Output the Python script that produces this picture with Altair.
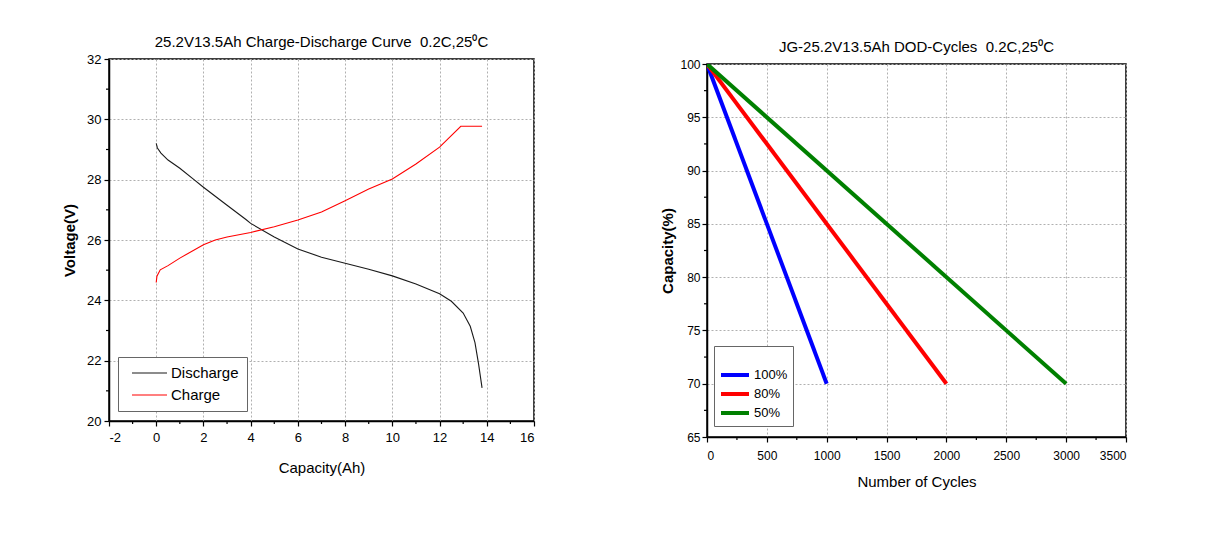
import altair as alt
import pandas as pd

FONT = "Liberation Sans"

# ---------------- Left chart data: charge / discharge curve ----------------
dis_cap = [0, 0.05, 0.2, 0.5, 1, 1.6, 2, 3, 3.8, 4, 5, 6, 7, 8, 9, 10, 11, 12, 12.5, 13, 13.3, 13.5, 13.65, 13.8]
dis_v = [29.2, 29.05, 28.88, 28.65, 28.38, 28.0, 27.75, 27.15, 26.68, 26.55, 26.1, 25.7, 25.43, 25.23, 25.03,
         24.81, 24.54, 24.22, 23.97, 23.58, 23.14, 22.6, 21.9, 21.1]
chg_cap = [0, 0.03, 0.17, 0.5, 1, 2, 2.5, 3, 4, 5, 6, 7, 8, 9, 10, 11, 12, 12.9, 13.8]
chg_v = [24.59, 24.8, 25.01, 25.15, 25.4, 25.84, 26.0, 26.1, 26.25, 26.44, 26.66, 26.93, 27.3, 27.69, 28.02,
         28.52, 29.08, 29.77, 29.77]
left_series = ["Discharge", "Charge"]
left_colors = ["#1a1a1a", "#ff0000"]
left_x_ticks = list(range(-2, 17, 2))
left_y_ticks = list(range(20, 33, 2))
left_x_minor = list(range(-1, 16, 2))
left_y_minor = list(range(21, 32, 2))

# ---------------- Right chart data: DOD vs cycles ----------------
dod_labels = ["100%", "80%", "50%"]
dod_colors = ["#0000ff", "#ff0000", "#008000"]
dod_end_cycles = [1000, 2000, 3000]
cap_start = 100
cap_end = 70
right_x_ticks = list(range(0, 3501, 500))
right_y_ticks = list(range(65, 101, 5))
right_x_minor = [250, 750, 1250, 1750, 2250, 2750, 3250]
right_y_minor = [67.5, 72.5, 77.5, 82.5, 87.5, 92.5, 97.5]

# ---------------- tables ----------------
rows = []
for i, (c, v) in enumerate(zip(dis_cap, dis_v)):
    rows.append({"series": "Discharge", "cap": c, "v": v, "idx": i})
for i, (c, v) in enumerate(zip(chg_cap, chg_v)):
    rows.append({"series": "Charge", "cap": c, "v": v, "idx": i})
df_left = pd.DataFrame(rows)

rrows = []
for lab, end in zip(dod_labels, dod_end_cycles):
    rrows.append({"dod": lab, "cyc": 0, "capp": cap_start, "idx": 0})
    rrows.append({"dod": lab, "cyc": end, "capp": cap_end, "idx": 1})
df_right = pd.DataFrame(rrows)

common = dict(gridColor="#b0b0b0", gridDash=[2, 2], gridWidth=1, domainColor="black", domainWidth=1.5,
              tickColor="black", tickSize=5, tickWidth=1.2, labelFont=FONT,
              labelColor="black", titleFont=FONT, titleFontSize=15, titleColor="black",
              labelExpr="'' + datum.value")

# ---------------- left chart ----------------
LW, LH = 425, 362
xs_l = alt.Scale(domain=[-2, 16], nice=False, zero=False)
ys_l = alt.Scale(domain=[20, 32], nice=False, zero=False)

lines_l = alt.Chart(df_left).mark_line(strokeWidth=1.1, clip=True).encode(
    x=alt.X("cap:Q", scale=xs_l, axis=alt.Axis(values=left_x_ticks, title="Capacity(Ah)", labelFontSize=13,
                                                titleFontWeight="normal", labelPadding=5, titlePadding=16, **common)),
    y=alt.Y("v:Q", scale=ys_l, axis=alt.Axis(values=left_y_ticks, title="Voltage(V)", labelFontSize=13,
                                              titleFontWeight="bold", labelPadding=3, titlePadding=9, **common)),
    color=alt.Color("series:N", scale=alt.Scale(domain=left_series, range=left_colors),
                    legend=alt.Legend(orient="none", legendX=9, legendY=298, title=None,
                                      strokeColor="#666666", fillColor="white", padding=8,
                                      symbolType="M-1,0H4", symbolSize=196, symbolStrokeWidth=1.2,
                                      symbolFillColor="transparent", symbolOffset=5,
                                      labelFont=FONT, labelFontSize=15, labelColor="black",
                                      labelExpr="datum.label + '\u00a0\u00a0'",
                                      rowPadding=6, labelOffset=24)),
    order="idx:Q",
)

minor_x_l = alt.Chart(pd.DataFrame({"cap": left_x_minor})).mark_rule(color="black", strokeWidth=1.2, clip=False).encode(
    x=alt.X("cap:Q", scale=xs_l, title="Capacity(Ah)"), y=alt.value(LH), y2=alt.value(LH + 3))
minor_y_l = alt.Chart(pd.DataFrame({"v": left_y_minor})).mark_rule(color="black", strokeWidth=1.2, clip=False).encode(
    y=alt.Y("v:Q", scale=ys_l, title="Voltage(V)"), x=alt.value(-3), x2=alt.value(0))

left = alt.layer(lines_l, minor_x_l, minor_y_l).properties(
    width=LW, height=LH,
    title=alt.TitleParams("25.2V13.5Ah Charge-Discharge Curve\u00a0 0.2C,25\u2070C", font=FONT, fontSize=15,
                          fontWeight="normal", color="black", offset=3, anchor="middle"))

# ---------------- right chart ----------------
RW, RH = 419, 373
xs_r = alt.Scale(domain=[0, 3500], nice=False, zero=False)
ys_r = alt.Scale(domain=[65, 100], nice=False, zero=False)

lines_r = alt.Chart(df_right).mark_line(strokeWidth=4, clip=True).encode(
    x=alt.X("cyc:Q", scale=xs_r, axis=alt.Axis(values=right_x_ticks, title="Number of Cycles", labelFontSize=12,
                                                titleFontWeight="normal", labelPadding=8, titlePadding=13, **common)),
    y=alt.Y("capp:Q", scale=ys_r, axis=alt.Axis(values=right_y_ticks, title="Capacity(%)", labelFontSize=12,
                                                 titleFontWeight="bold", labelPadding=2, titlePadding=4, **common)),
    color=alt.Color("dod:N", scale=alt.Scale(domain=dod_labels, range=dod_colors),
                    legend=alt.Legend(orient="none", legendX=7, legendY=282, title=" ",
                                      titleFontSize=12, titlePadding=4,
                                      strokeColor="#666666", fillColor="white", padding=5,
                                      symbolType="M-1,0H3.67", symbolSize=144, symbolStrokeWidth=4,
                                      symbolFillColor="transparent",
                                      labelFont=FONT, labelFontSize=13, labelColor="black",
                                      rowPadding=3, labelOffset=19)),
    order="idx:Q",
)
minor_x_r = alt.Chart(pd.DataFrame({"cyc": right_x_minor})).mark_rule(color="black", strokeWidth=1.2, clip=False).encode(
    x=alt.X("cyc:Q", scale=xs_r, title="Number of Cycles"), y=alt.value(RH), y2=alt.value(RH + 3))
minor_y_r = alt.Chart(pd.DataFrame({"capp": right_y_minor})).mark_rule(color="black", strokeWidth=1.2, clip=False).encode(
    y=alt.Y("capp:Q", scale=ys_r, title="Capacity(%)"), x=alt.value(-3), x2=alt.value(0))

right_plot = alt.layer(lines_r, minor_x_r, minor_y_r).properties(width=RW, height=RH)

spacer = alt.Chart(pd.DataFrame({"a": [0]})).mark_point(opacity=0, size=0).encode(
    x=alt.X("a:Q", axis=None), y=alt.Y("a:Q", axis=None)
).properties(
    width=RW, height=5, view=alt.ViewBackground(stroke="transparent"),
    title=alt.TitleParams("JG-25.2V13.5Ah DOD-Cycles\u00a0 0.2C,25\u2070C", font=FONT, fontSize=15,
                          fontWeight="normal", color="black", offset=4, anchor="middle"))

right = alt.vconcat(spacer, right_plot, spacing=0, bounds="flush").resolve_scale(
    x="independent", y="independent", color="independent")

chart = alt.hconcat(left, right, spacing=124).resolve_scale(color="independent", x="independent", y="independent").properties(
    padding={"left": 53, "top": 26, "right": 5, "bottom": 5}, background="white"
).configure_view(stroke="black", strokeWidth=1.5)

chart.save("out.html", embed_options={"renderer": "svg", "actions": False})
